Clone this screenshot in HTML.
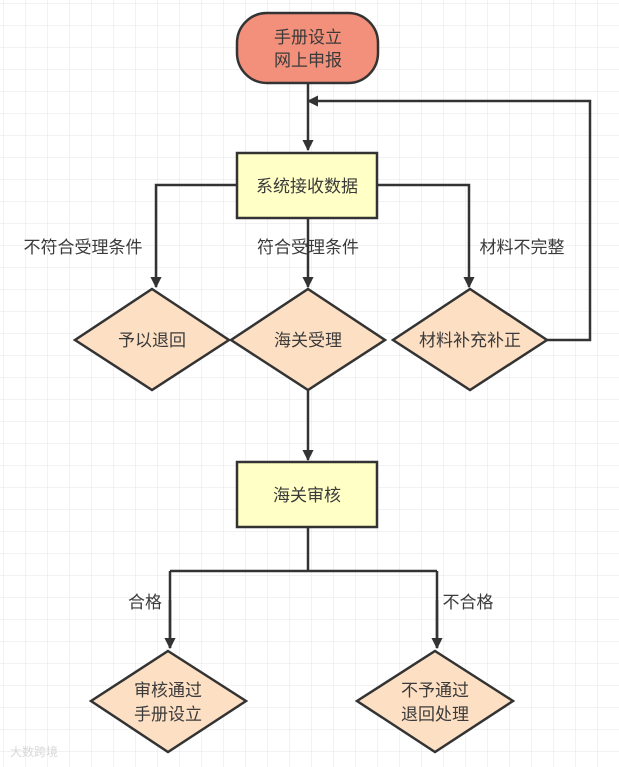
<!DOCTYPE html>
<html><head><meta charset="utf-8"><style>
html,body{margin:0;padding:0;background:#fff}
svg{display:block}
text{font-family:"Liberation Sans","Noto Sans CJK SC",sans-serif;font-size:17px;fill:#3a3a3a}
</style></head><body>
<svg width="619" height="767" viewBox="0 0 619 767" xmlns="http://www.w3.org/2000/svg">
<defs>
<pattern id="g" width="22" height="22" patternUnits="userSpaceOnUse" x="4" y="4">
<path d="M22 0V22M0 22H22" fill="none" stroke="#e4e4e4" stroke-width="1"/>
</pattern>
<marker id="a" viewBox="0 0 10 10" refX="9" refY="5" markerWidth="4.5" markerHeight="5.5" orient="auto" markerUnits="strokeWidth">
<path d="M0 0L10 5L0 10z" fill="#333"/>
</marker>
</defs>
<rect width="619" height="767" fill="url(#g)"/>
<g stroke="#333" stroke-width="2.5" fill="none">
<path d="M308 83V150" marker-end="url(#a)"/>
<path d="M547 340H590V101H308" marker-end="url(#a)"/>
<path d="M237 185H156V287" marker-end="url(#a)"/>
<path d="M308 218V287" marker-end="url(#a)"/>
<path d="M377 185H469V287" marker-end="url(#a)"/>
<path d="M308 390V460" marker-end="url(#a)"/>
<path d="M308 527V571M170 571H437M170 571V648M437 571V648" />
<path d="M170 600V648" marker-end="url(#a)"/>
<path d="M437 600V648" marker-end="url(#a)"/>
</g>
<rect x="237" y="13" width="141" height="70" rx="30" ry="30" fill="#f3907b" stroke="#333" stroke-width="2.5"/>
<text x="308" y="43" text-anchor="middle">手册设立</text>
<text x="308" y="66" text-anchor="middle">网上申报</text>
<rect x="237" y="153" width="140" height="65" fill="#ffffc6" stroke="#333" stroke-width="2.5"/>
<text x="307" y="192" text-anchor="middle">系统接收数据</text>
<g fill="#fde0c4" stroke="#333" stroke-width="2.5">
<path d="M152 289L229 340L152 390L75 340z"/>
<path d="M308 289L385 340L308 390L231 340z"/>
<path d="M470 289L547 340L470 390L393 340z"/>
<path d="M168 651L246 701L168 752L91 701z"/>
<path d="M435 651L513 701L435 752L357 701z"/>
</g>
<text x="152" y="346" text-anchor="middle">予以退回</text>
<text x="308" y="346" text-anchor="middle">海关受理</text>
<text x="470" y="346" text-anchor="middle">材料补充补正</text>
<text x="83" y="253" text-anchor="middle">不符合受理条件</text>
<text x="308" y="253" text-anchor="middle">符合受理条件</text>
<text x="522" y="253" text-anchor="middle">材料不完整</text>
<rect x="237" y="462" width="140" height="65" fill="#ffffc6" stroke="#333" stroke-width="2.5"/>
<text x="307" y="501" text-anchor="middle">海关审核</text>
<text x="145" y="608" text-anchor="middle">合格</text>
<text x="468" y="608" text-anchor="middle">不合格</text>
<text x="168" y="696" text-anchor="middle">审核通过</text>
<text x="168" y="720" text-anchor="middle">手册设立</text>
<text x="435" y="696" text-anchor="middle">不予通过</text>
<text x="435" y="720" text-anchor="middle">退回处理</text>
<text x="10" y="756" style="font-size:12px;fill:#d8d8d8">大数跨境</text>
</svg>
</body></html>
